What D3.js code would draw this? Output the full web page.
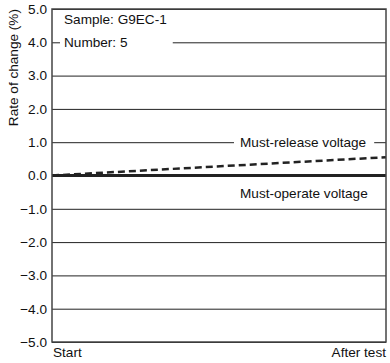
<!DOCTYPE html>
<html>
<head>
<meta charset="utf-8">
<script src="https://cdn.jsdelivr.net/npm/d3@7"></script>
<style>
  body { margin: 0; background: #fff; }
  svg text { font-family: "Liberation Sans", Arial, sans-serif; fill: #111; }
</style>
</head>
<body>
<div id="chart"></div>
<script>
// Rate of change of relay voltages, start vs after test
const stages = ["Start", "After test"];
const yTicks = [5, 4, 3, 2, 1, 0, -1, -2, -3, -4, -5];
const mustRelease = [0.0, 0.55];
const mustOperate = [0.0, 0.0];
const notes = ["Sample: G9EC-1", "Number: 5"];

const W = 390, H = 363;
const FS = 13.6;
const margin = { top: 9, right: 4, bottom: 21, left: 52 };

const svg = d3.select("#chart").append("svg")
  .attr("width", W).attr("height", H);

const x = d3.scalePoint().domain(stages).range([margin.left, W - margin.right]);
const y = d3.scaleLinear().domain([-5, 5]).range([H - margin.bottom, margin.top]);

// grid lines
svg.append("g")
  .attr("transform", `translate(${margin.left},0)`)
  .call(d3.axisLeft(y).tickValues(yTicks).tickFormat(d3.format(".1f"))
    .tickSize(-(W - margin.left - margin.right)).tickPadding(5))
  .call(g => g.select(".domain").remove())
  .call(g => g.selectAll(".tick line").attr("stroke", "#222").attr("stroke-width", 1))
  .call(g => g.selectAll(".tick text").attr("font-size", FS).attr("fill", "#111")
    .attr("font-family", "Liberation Sans, Arial, sans-serif"));

// white boxes behind labels that break the grid
function label(txt, xx, yy, anchor, pad) {
  const t = svg.append("text").attr("x", xx).attr("y", yy)
    .attr("text-anchor", anchor).attr("font-size", FS).text(txt);
  const b = t.node().getBBox();
  svg.insert("rect", function () { return t.node(); })
    .attr("x", b.x - pad[0]).attr("y", b.y).attr("width", b.width + pad[0] + pad[1])
    .attr("height", b.height).attr("fill", "#fff");
  return t;
}

// sample notes: one white box spanning both lines
const noteBox = svg.append("rect").attr("fill", "#fff");
const noteText = notes.map((n, i) => svg.append("text")
  .attr("x", 64).attr("y", y(4.55) + i * (y(4) - y(4.55) + 5))
  .attr("font-size", FS).text(n));
const nb = noteText.map(t => t.node().getBBox());
noteBox.attr("x", 60).attr("y", nb[0].y)
  .attr("width", d3.max(nb, b => b.x + b.width) + 6 - 60)
  .attr("height", nb[1].y + nb[1].height - nb[0].y);

label("Must-release voltage", 240, y(1) + 5, "start", [6, 8]);
svg.append("text").attr("x", 240).attr("y", y(-0.52) + 5)
  .attr("font-size", FS).text("Must-operate voltage");

// series
const line = d3.line().x((d, i) => x(stages[i])).y(d => y(d));
svg.append("path").datum(mustOperate).attr("fill", "none")
  .attr("stroke", "#222").attr("stroke-width", 3).attr("d", line);
svg.append("path").datum(mustRelease).attr("fill", "none")
  .attr("stroke", "#222").attr("stroke-width", 2.5)
  .attr("stroke-dasharray", "7,4").attr("d", line);

// frame
svg.append("rect")
  .attr("x", margin.left).attr("y", margin.top)
  .attr("width", W - margin.left - margin.right)
  .attr("height", H - margin.top - margin.bottom)
  .attr("fill", "none").attr("stroke", "#444").attr("stroke-width", 1.5);

// x labels
svg.append("text").attr("x", x(stages[0]) + 1).attr("y", H - 6)
  .attr("font-size", FS).text(stages[0]);
svg.append("text").attr("x", x(stages[1])).attr("y", H - 6)
  .attr("text-anchor", "end").attr("font-size", FS).text(stages[1]);

// y title
svg.append("text")
  .attr("transform", `translate(18,${y(3.24)}) rotate(-90)`)
  .attr("text-anchor", "middle").attr("font-size", FS)
  .text("Rate of change (%)");
</script>
</body>
</html>
